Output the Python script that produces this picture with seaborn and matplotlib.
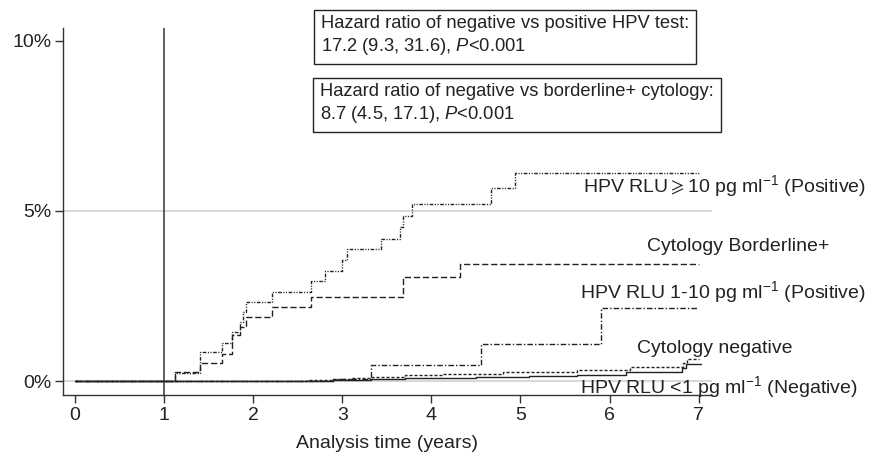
import matplotlib
matplotlib.use("Agg")
import matplotlib.pyplot as plt
import seaborn as sns
from matplotlib.ticker import FuncFormatter

# Cumulative incidence (%), step functions
time_hpv_pos = [0, 1.12, 1.40, 1.65, 1.76, 1.85, 1.88, 1.92, 2.21, 2.65, 2.81, 3.00, 3.05, 3.43, 3.65, 3.68, 3.78, 4.67, 4.94, 7.0]
cum_hpv_pos = [0, 0.24, 0.86, 1.13, 1.45, 1.74, 2.04, 2.33, 2.63, 2.95, 3.25, 3.56, 3.87, 4.19, 4.54, 4.85, 5.22, 5.67, 6.13, 6.13]

time_cyto_bl = [0, 1.12, 1.40, 1.65, 1.76, 1.85, 1.92, 2.21, 2.65, 3.68, 4.32, 7.0]
cum_cyto_bl = [0, 0.27, 0.52, 0.81, 1.35, 1.60, 1.89, 2.19, 2.47, 3.07, 3.44, 3.44]

time_hpv_mid = [0, 2.90, 3.32, 4.56, 5.90, 6.98]
cum_hpv_mid = [0, 0.05, 0.47, 1.08, 2.14, 2.14]

time_cyto_neg = [0, 2.60, 2.90, 3.10, 3.32, 3.70, 4.13, 4.80, 5.63, 6.23, 6.83, 6.87, 7.0]
cum_cyto_neg = [0, 0.02, 0.05, 0.08, 0.12, 0.18, 0.22, 0.26, 0.32, 0.42, 0.54, 0.64, 0.64]

time_hpv_neg = [0, 2.90, 3.32, 3.70, 4.50, 5.10, 5.63, 6.19, 6.81, 6.86, 7.03]
cum_hpv_neg = [0, 0.02, 0.06, 0.10, 0.12, 0.14, 0.18, 0.27, 0.37, 0.49, 0.49]

x_ticks = [0, 1, 2, 3, 4, 5, 6, 7]
y_ticks = [0, 5, 10]

sns.set_style("ticks")
plt.rcParams['font.family'] = ['Liberation Sans', 'DejaVu Sans']
plt.rcParams['mathtext.fontset'] = 'custom'
plt.rcParams['mathtext.rm'] = 'Liberation Sans'
plt.rcParams['mathtext.it'] = 'Liberation Sans:italic'

fig = plt.figure(figsize=(8.69, 4.59), dpi=100)
ax = fig.add_axes([63/869, 1 - 395/459, (712 - 63)/869, (395 - 28)/459])

# reference lines
ax.axhline(0, color='#d9d9d9', lw=1.5, zorder=0)
ax.axhline(5, color='#d9d9d9', lw=1.5, zorder=0)
ax.axvline(1, color='#444444', lw=1.2, zorder=1)

line_kw = dict(color='#222222', lw=1.0, drawstyle='steps-post', estimator=None, ax=ax)
sns.lineplot(x=time_hpv_neg, y=cum_hpv_neg, linestyle='-', **line_kw)
sns.lineplot(x=time_cyto_neg, y=cum_cyto_neg, linestyle=(0, (2.2, 1.4)), **line_kw)
sns.lineplot(x=time_hpv_mid, y=cum_hpv_mid, linestyle=(0, (4, 1.5, 1, 1.5)), **line_kw)
sns.lineplot(x=time_cyto_bl, y=cum_cyto_bl, linestyle=(0, (4.5, 2)), **line_kw)
sns.lineplot(x=time_hpv_pos, y=cum_hpv_pos, linestyle=(0, (2.6, 1.1, 0.8, 1.1, 0.8, 1.1)), **line_kw)

ax.set_xlim(-0.135, 7.15)
ax.set_ylim(-0.41, 10.38)
ax.set_xticks(x_ticks)
ax.set_yticks(y_ticks)
ax.yaxis.set_major_formatter(FuncFormatter(lambda v, p: f"{v:.0f}%"))
ax.tick_params(axis='both', length=6, width=1, pad=2.5, labelsize=14, color='#333333', labelcolor='#222222')
ax.spines[['top', 'right']].set_visible(False)
for s in ['left', 'bottom']:
    ax.spines[s].set_color('#333333')
    ax.spines[s].set_linewidth(1)
ax.set_xlabel("Analysis time (years)", fontsize=14, color='#222222', labelpad=8)
ax.set_ylabel("")

# curve labels
fs = 14
lab_kw = dict(ha='right', va='center', fontsize=fs, color='#222222', clip_on=False)
ax.text(8.88, 5.74, r"HPV RLU$\geqslant$10 pg ml$^{-1}$ (Positive)", **lab_kw)
ax.text(8.47, 3.97, "Cytology Borderline+", **lab_kw)
ax.text(8.88, 2.62, r"HPV RLU 1-10 pg ml$^{-1}$ (Positive)", **lab_kw)
ax.text(8.05, 0.97, "Cytology negative", **lab_kw)
ax.text(8.78, -0.18, r"HPV RLU <1 pg ml$^{-1}$ (Negative)", **lab_kw)

# hazard ratio boxes
box_kw = dict(boxstyle='square,pad=0.38', fc='white', ec='#222222', lw=1)
fig.text(321/869, 1 - 15/459,
         "Hazard ratio of negative vs positive HPV test:\n17.2 (9.3, 31.6), $P$<0.001",
         ha='left', va='top', fontsize=13.2, color='#222222', linespacing=1.28, bbox=box_kw)
fig.text(320/869, 1 - 83/459,
         "Hazard ratio of negative vs borderline+ cytology:\n8.7 (4.5, 17.1), $P$<0.001",
         ha='left', va='top', fontsize=13.2, color='#222222', linespacing=1.28, bbox=box_kw)

fig.savefig("out.png", dpi=100)
